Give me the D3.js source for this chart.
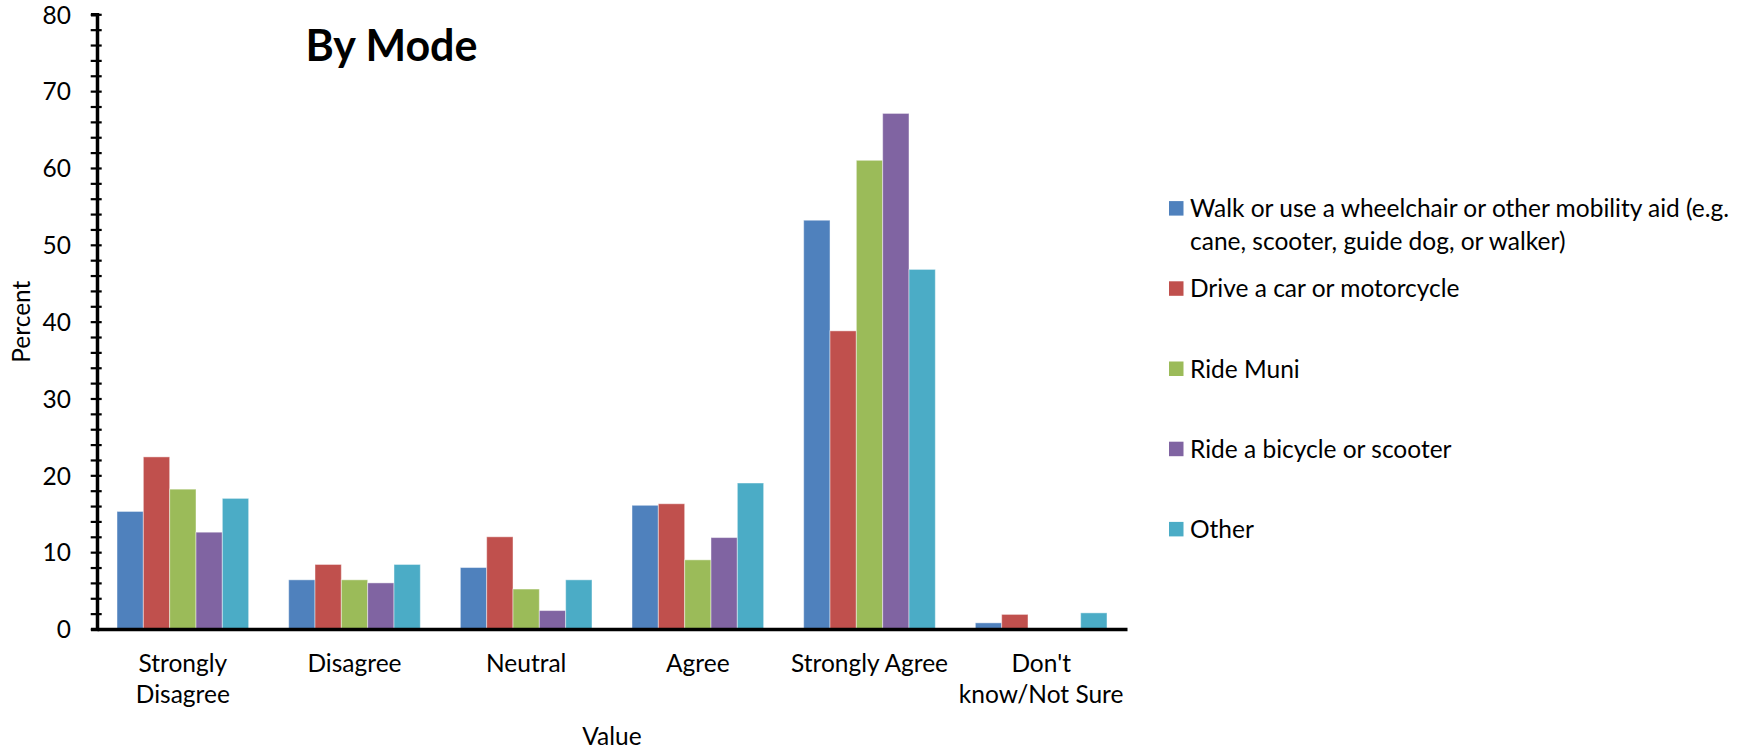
<!DOCTYPE html>
<html>
<head>
<meta charset="utf-8">
<script src="https://cdn.jsdelivr.net/npm/d3@7"></script>
<style>
  html, body { margin: 0; padding: 0; background: #fff; }
  svg { display: block; font-family: Lato, "Open Sans", sans-serif; }
</style>
</head>
<body>
<svg id="chart" width="1758" height="749"></svg>
<script>
// ---------- data ----------
const categories = ["Strongly Disagree", "Disagree", "Neutral", "Agree", "Strongly Agree", "Don't know/Not Sure"];
const categoryLabelLines = [["Strongly", "Disagree"], ["Disagree"], ["Neutral"], ["Agree"], ["Strongly Agree"], ["Don't", "know/Not Sure"]];
const seriesNames = [
  "Walk or use a wheelchair or other mobility aid (e.g. cane, scooter, guide dog, or walker)",
  "Drive a car or motorcycle",
  "Ride Muni",
  "Ride a bicycle or scooter",
  "Other"
];
const legendLabelLines = [
  ["Walk or use a wheelchair or other mobility aid (e.g.", "cane, scooter, guide dog, or walker)"],
  ["Drive a car or motorcycle"],
  ["Ride Muni"],
  ["Ride a bicycle or scooter"],
  ["Other"]
];
const walkValues  = [15.3, 6.4, 8.0, 16.1, 53.2, 0.8];
const driveValues = [22.4, 8.4, 12.0, 16.3, 38.8, 1.9];
const muniValues  = [18.2, 6.4, 5.2, 9.0, 61.0, 0];
const bikeValues  = [12.6, 6.0, 2.4, 11.9, 67.1, 0];
const otherValues = [17.0, 8.4, 6.4, 19.0, 46.8, 2.1];
const seriesValues = [walkValues, driveValues, muniValues, bikeValues, otherValues];
const seriesColors = ["#4F81BD", "#C0504D", "#9BBB59", "#8064A2", "#4BACC6"];
const yTickValues = d3.range(0, 81, 2);
const yLabelTicks = [0, 10, 20, 30, 40, 50, 60, 70, 80];
const chartTitle = "By Mode";
const xAxisTitle = "Value";
const yAxisTitle = "Percent";

// ---------- layout ----------
const svg = d3.select("#chart");
const plot = { left: 97, right: 1127, top: 14.3, bottom: 629 };
const FONT = 24.5;

const x0 = d3.scaleBand().domain(categories).range([plot.left, plot.right]).padding(0);
const x1 = d3.scaleBand().domain(seriesNames).range([0, x0.bandwidth()]).paddingInner(0).paddingOuter(0.76);
const y = d3.scaleLinear().domain([0, 80]).range([plot.bottom, plot.top]);
const color = d3.scaleOrdinal().domain(seriesNames).range(seriesColors);

// ---------- bars ----------
const groups = svg.append("g").selectAll("g")
  .data(categories)
  .join("g")
  .attr("transform", d => `translate(${x0(d)},0)`);

groups.selectAll("rect")
  .data((c, ci) => seriesNames.map((s, si) => ({ s, v: seriesValues[si][ci] })))
  .join("rect")
  .filter(d => d.v > 0)
  .attr("x", d => x1(d.s))
  .attr("y", d => y(d.v))
  .attr("width", x1.bandwidth())
  .attr("height", d => y(0) - y(d.v))
  .attr("fill", d => color(d.s))
  .attr("stroke", "#ffffff")
  .attr("stroke-opacity", 0.45)
  .attr("stroke-width", 1);

// ---------- y axis ----------
const yAxis = d3.axisLeft(y)
  .tickValues(yTickValues)
  .tickSizeOuter(0)
  .tickSize(6)
  .tickFormat(d => yLabelTicks.includes(d) ? d : "");

const gy = svg.append("g").attr("transform", `translate(${plot.left},0)`).call(yAxis);
gy.select(".domain").attr("stroke", "#000").attr("stroke-width", 3.5);
gy.selectAll(".tick line").attr("x1", 4.7).attr("x2", -6.3).attr("stroke", "#000").attr("stroke-width", 2.2);
gy.selectAll(".tick text")
  .attr("x", -26)
  .attr("dy", "0.36em")
  .attr("fill", "#000")
  .style("font-size", FONT + "px")
  .style("font-family", "Lato, sans-serif");

// ---------- x axis ----------
const xAxis = d3.axisBottom(x0).tickSize(0).tickSizeOuter(0).tickFormat("");
const gx = svg.append("g").attr("transform", `translate(0,${plot.bottom})`).call(xAxis);
gx.select(".domain").attr("stroke", "#000").attr("stroke-width", 3.5);
gx.selectAll(".tick").each(function (d, i) {
  const t = d3.select(this).append("text")
    .attr("text-anchor", "middle")
    .attr("fill", "#000")
    .style("font-size", FONT + "px")
    .style("font-family", "Lato, sans-serif");
  categoryLabelLines[i].forEach((line, li) => {
    t.append("tspan").attr("x", 0).attr("y", 42.5 + li * 31).text(line);
  });
});

// ---------- titles ----------
svg.append("text")
  .attr("x", 305.5).attr("y", 61)
  .attr("fill", "#000")
  .style("font-size", "43px").style("font-weight", "bold")
  .text(chartTitle);

svg.append("text")
  .attr("x", (plot.left + plot.right) / 2).attr("y", 745)
  .attr("text-anchor", "middle").attr("fill", "#000")
  .style("font-size", FONT + "px")
  .text(xAxisTitle);

svg.append("text")
  .attr("transform", `translate(30,${(plot.top + plot.bottom) / 2}) rotate(-90)`)
  .attr("text-anchor", "middle").attr("fill", "#000")
  .style("font-size", FONT + "px")
  .text(yAxisTitle);

// ---------- legend ----------
const legend = svg.append("g");
const legendItems = legend.selectAll("g")
  .data(seriesNames)
  .join("g")
  .attr("transform", (d, i) => `translate(1169,${208.3 + i * 80.2})`);

legendItems.append("rect")
  .attr("x", 0).attr("y", -7.2)
  .attr("width", 14.5).attr("height", 14.5)
  .attr("fill", d => color(d));

legendItems.each(function (d, i) {
  const t = d3.select(this).append("text")
    .attr("fill", "#000")
    .style("font-size", FONT + "px");
  legendLabelLines[i].forEach((line, li) => {
    t.append("tspan").attr("x", 21).attr("y", li * 32.8).attr("dy", "0.36em").text(line);
  });
});
</script>
</body>
</html>
